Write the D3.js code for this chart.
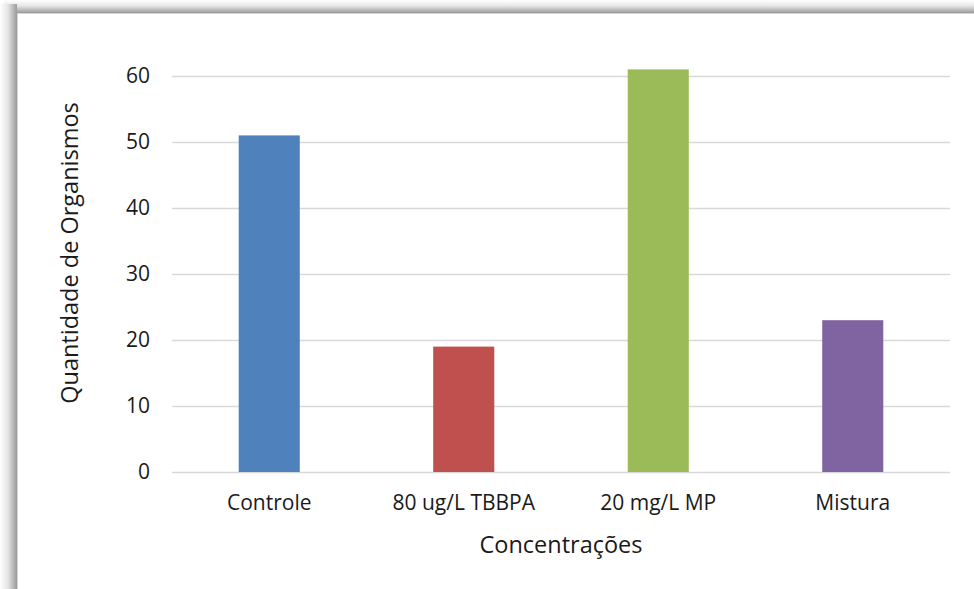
<!DOCTYPE html>
<html>
<head>
<meta charset="utf-8">
<script src="https://cdn.jsdelivr.net/npm/d3@7"></script>
<style>
  html, body { margin: 0; padding: 0; background: #ffffff; }
  svg { display: block; }
  text { font-family: "Open Sans", "Noto Sans", sans-serif; fill: #1a1a1a; }
</style>
</head>
<body>
<svg id="chart" width="974" height="589"></svg>
<script>
// Chart data
const categories = ["Controle", "80 ug/L TBBPA", "20 mg/L MP", "Mistura"];
const values = [51, 19, 61, 23];
const barColors = ["#4f81bd", "#c0504d", "#9bbb59", "#8064a2"];
const yTicks = [0, 10, 20, 30, 40, 50, 60];
const xTitle = "Concentrações";
const yTitle = "Quantidade de Organismos";

const W = 974, H = 589;
const svg = d3.select("#chart");
const defs = svg.append("defs");

// Frame shadow along the top and left edges
const gTop = defs.append("linearGradient").attr("id", "shTop")
  .attr("x1", 0).attr("y1", 0).attr("x2", 0).attr("y2", 1);
gTop.append("stop").attr("offset", "0%").attr("stop-color", "#ffffff");
gTop.append("stop").attr("offset", "45%").attr("stop-color", "#e6e6e6");
gTop.append("stop").attr("offset", "100%").attr("stop-color", "#9a9a9a");
const gLeft = defs.append("linearGradient").attr("id", "shLeft")
  .attr("x1", 0).attr("y1", 0).attr("x2", 1).attr("y2", 0);
gLeft.append("stop").attr("offset", "0%").attr("stop-color", "#ffffff");
gLeft.append("stop").attr("offset", "45%").attr("stop-color", "#e6e6e6");
gLeft.append("stop").attr("offset", "100%").attr("stop-color", "#9a9a9a");

svg.append("rect").attr("x", 0).attr("y", 0).attr("width", W).attr("height", H).attr("fill", "#ffffff");
svg.append("rect").attr("x", 4).attr("y", 0).attr("width", W - 4).attr("height", 13).attr("fill", "url(#shTop)");
svg.append("rect").attr("x", 0).attr("y", 4).attr("width", 17).attr("height", H - 4).attr("fill", "url(#shLeft)");
// Chart area frame
svg.append("rect").attr("x", 17.5).attr("y", 13.5).attr("width", W).attr("height", H)
  .attr("fill", "#ffffff").attr("stroke", "#d4d4d4").attr("stroke-width", 1);

// Plot area
const plot = { left: 172, right: 950, top: 76, bottom: 472 };

const x = d3.scaleBand()
  .domain(categories)
  .range([plot.left, plot.right])
  .paddingInner(0.686)
  .paddingOuter(0.343);

const y = d3.scaleLinear()
  .domain([0, 60])
  .range([plot.bottom, plot.top]);

// Horizontal gridlines with y tick labels
const yAxis = d3.axisLeft(y)
  .tickValues(yTicks)
  .tickSize(-(plot.right - plot.left))
  .tickPadding(22)
  .tickFormat(d3.format("d"));

const gy = svg.append("g")
  .attr("transform", `translate(${plot.left},0)`)
  .call(yAxis);
gy.select(".domain").remove();
gy.selectAll(".tick line").attr("stroke", "#d9d9d9").attr("stroke-width", 1.5);
gy.selectAll(".tick text")
  .attr("font-size", 21)
  .attr("fill", "#1a1a1a");

// Bars
svg.append("g").selectAll("rect")
  .data(categories)
  .join("rect")
  .attr("x", d => x(d))
  .attr("y", (d, i) => y(values[i]))
  .attr("width", x.bandwidth())
  .attr("height", (d, i) => y(0) - y(values[i]))
  .attr("fill", (d, i) => barColors[i]);

// Category axis labels
const xAxis = d3.axisBottom(x).tickSize(0).tickPadding(23);
const gx = svg.append("g")
  .attr("transform", `translate(0,${plot.bottom})`)
  .call(xAxis);
gx.select(".domain").remove();
gx.selectAll(".tick text")
  .attr("font-size", 21)
  .attr("fill", "#1a1a1a");

// Axis titles
svg.append("text")
  .attr("x", 561)
  .attr("y", 553)
  .attr("text-anchor", "middle")
  .attr("font-size", 23.5)
  .text(xTitle);

svg.append("text")
  .attr("transform", `translate(78,253) rotate(-90)`)
  .attr("text-anchor", "middle")
  .attr("font-size", 23.5)
  .text(yTitle);
</script>
</body>
</html>
